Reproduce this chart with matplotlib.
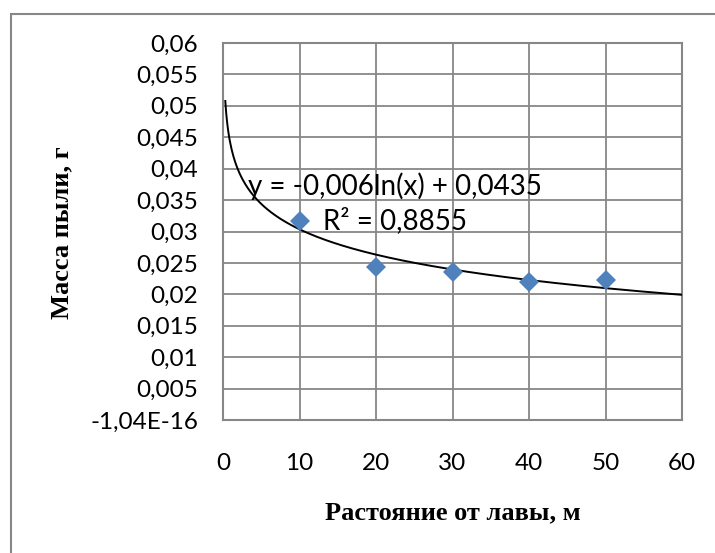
import numpy as np
import matplotlib.pyplot as plt
from matplotlib import patches

# measured points: distance from the face (m) and dust mass (g)
distance = [10, 20, 30, 40, 50]
dust_mass = [0.0316, 0.0244, 0.0236, 0.0220, 0.0223]

# logarithmic trendline label as printed on the chart
equation = 'y = -0,006ln(x) + 0,0435'
r_squared = '0,8855'

x_ticks = [0, 10, 20, 30, 40, 50, 60]
y_ticks = [0, 0.005, 0.01, 0.015, 0.02, 0.025, 0.03, 0.035, 0.04, 0.045, 0.05, 0.055, 0.06]
y_tick_labels = ['-1,04E-16', '0,005', '0,01', '0,015', '0,02', '0,025', '0,03',
                 '0,035', '0,04', '0,045', '0,05', '0,055', '0,06']

grid_color = '#878787'
tick_font = 'Lato'

fig = plt.figure(figsize=(7.15, 5.53), dpi=100)
ax = fig.add_axes([223 / 715, 133 / 553, 459 / 715, 377 / 553])

# outer chart frame (runs off the right and bottom edge of the picture)
frame = patches.Rectangle((11 / 715, -0.1), 1.2, 1.1 - 14 / 553, transform=fig.transFigure,
                          fill=False, edgecolor=grid_color, linewidth=1.5, zorder=0)
fig.patches.append(frame)

# logarithmic trendline fitted to the points
slope, intercept = np.polyfit(np.log(distance), dust_mass, 1)
xs = np.linspace(0.3, 60, 500)
ax.plot(xs, slope * np.log(xs) + intercept, color='black', linewidth=1.4, zorder=3)

# data points
ax.plot(distance, dust_mass, linestyle='none', marker='D', markersize=10,
        color='#4F81BD', markeredgewidth=0, zorder=4)

ax.set_xlim(0, 60)
ax.set_ylim(0, 0.06)
ax.set_xticks(x_ticks)
ax.set_yticks(y_ticks)
ax.set_yticklabels(y_tick_labels)
ax.grid(True, color=grid_color, linewidth=1.3)
ax.set_axisbelow(True)
for sp in ax.spines.values():
    sp.set_color(grid_color)
    sp.set_linewidth(1.5)
ax.tick_params(length=0, labelsize=17.5)
ax.tick_params(axis='y', pad=18)
ax.tick_params(axis='x', pad=24)
for lab in ax.get_xticklabels() + ax.get_yticklabels():
    lab.set_fontfamily(tick_font)

ax.text(22.5, 0.0345, equation + '\nR² = ' + r_squared, ha='center', va='center',
        multialignment='center', fontsize=20, family=tick_font, linespacing=1.35, zorder=5)

ax.set_xlabel('Растояние от лавы, м', fontsize=19, fontweight='bold',
              family='Liberation Serif')
ax.set_ylabel('Масса пыли, г', fontsize=19, fontweight='bold',
              family='Liberation Serif')
ax.xaxis.set_label_coords(0.5, -93 / 377)
ax.yaxis.set_label_coords(-161 / 459, (420 - 232.5) / 377)
ax.xaxis.label.set_va('center')
ax.yaxis.label.set_va('center')

fig.savefig('out.png', dpi=100)
